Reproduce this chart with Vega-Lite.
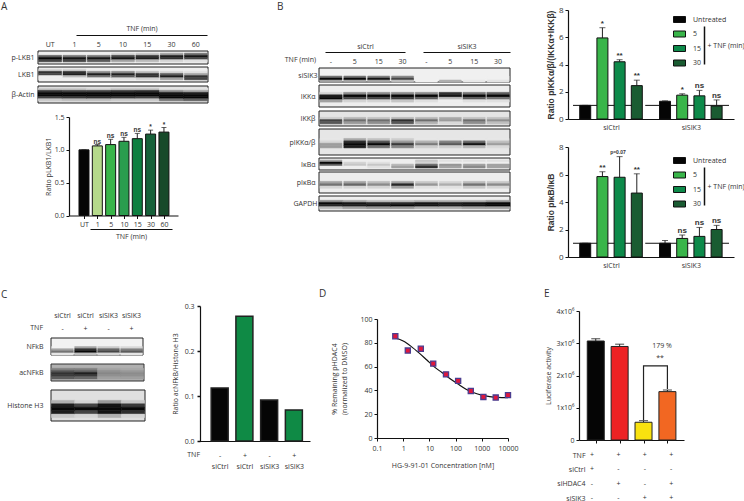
{
"$schema":"https://vega.github.io/schema/vega-lite/v6.json",
"width":744,"height":501,"padding":0,"autosize":{"type":"none"},"background":"white",
"datasets":{"unit":[{"a":0,"b":1}]},
"config":{"view":{"stroke":null},"text":{"font":"Open Sans","fontSize":7,"fill":"#333"},
"axis":{"labelFont":"Open Sans","labelFontSize":7,"labelColor":"#333","titleFont":"Open Sans","titleFontSize":7,"titleFontWeight":"normal","titleColor":"#333","domainColor":"#111","domainWidth":1.2,"tickColor":"#111","tickWidth":1,"tickSize":3,"grid":false,"labelPadding":2,"labelOverlap":false,"labelFlush":false},
"legend":{"labelFont":"Open Sans","labelFontSize":7,"labelColor":"#333"}},
"resolve":{"scale":{"x":"independent","y":"independent","color":"independent","stroke":"independent"},"axis":{"x":"independent","y":"independent"}},
"layer":[
{"data":{"values":[{"a":0,"t":"A"}]},"mark":{"type":"text","align":"left","fontSize":10},"encoding":{"x":{"field":"a","type":"quantitative","scale":{"domain":[0,1],"range":[1,2]},"axis":null},"y":{"field":"a","type":"quantitative","scale":{"domain":[0,1],"range":[7,8]},"axis":null},"text":{"field":"t"}}},
{"data":{"values":[{"a":0,"t":"B"}]},"mark":{"type":"text","align":"left","fontSize":10},"encoding":{"x":{"field":"a","type":"quantitative","scale":{"domain":[0,1],"range":[277,278]},"axis":null},"y":{"field":"a","type":"quantitative","scale":{"domain":[0,1],"range":[7,8]},"axis":null},"text":{"field":"t"}}},
{"data":{"values":[{"a":0,"t":"C"}]},"mark":{"type":"text","align":"left","fontSize":10},"encoding":{"x":{"field":"a","type":"quantitative","scale":{"domain":[0,1],"range":[1,2]},"axis":null},"y":{"field":"a","type":"quantitative","scale":{"domain":[0,1],"range":[295,296]},"axis":null},"text":{"field":"t"}}},
{"data":{"values":[{"a":0,"t":"D"}]},"mark":{"type":"text","align":"left","fontSize":10},"encoding":{"x":{"field":"a","type":"quantitative","scale":{"domain":[0,1],"range":[319,320]},"axis":null},"y":{"field":"a","type":"quantitative","scale":{"domain":[0,1],"range":[294,295]},"axis":null},"text":{"field":"t"}}},
{"data":{"values":[{"a":0,"t":"E"}]},"mark":{"type":"text","align":"left","fontSize":10},"encoding":{"x":{"field":"a","type":"quantitative","scale":{"domain":[0,1],"range":[544,545]},"axis":null},"y":{"field":"a","type":"quantitative","scale":{"domain":[0,1],"range":[294,295]},"axis":null},"text":{"field":"t"}}},

{"data":{"name":"unit"},"mark":{"type":"rect","opacity":0},"encoding":{"x":{"field":"a","type":"quantitative","scale":{"domain":[0,1],"range":[76,207]},"axis":{"orient":"top","offset":-35,"ticks":false,"labels":false,"title":"TNF (min)","titlePadding":4}}}},
{"data":{"name":"unit"},"mark":{"type":"rect","fill":"#eeeeee","stroke":"#222","strokeWidth":1},"encoding":{"x":{"field":"a","type":"quantitative","scale":{"domain":[0,1],"range":[38,208]},"axis":null},"x2":{"field":"b"},"y":{"field":"a","type":"quantitative","scale":{"domain":[0,1],"range":[51,64]},"axis":{"title":"p-LKB1","orient":"left","offset":-38,"domain":false,"ticks":false,"labels":false,"titleAngle":0,"titleAlign":"right","titleBaseline":"middle","titlePadding":4}},"y2":{"field":"b"}}},
{"data":{"values":[{"l":"UT","b":0,"c":0.6,"d":1,"e":0.7},{"l":"1","b":0,"c":0.5,"d":0.95,"e":0.7},{"l":"5","b":0,"c":0.5,"d":0.95,"e":0.6},{"l":"10","b":0.1,"c":0.7,"d":0.95,"e":0.3},{"l":"15","b":0.15,"c":0.8,"d":0.9,"e":0.2},{"l":"30","b":0.3,"c":0.9,"d":0.8,"e":0.1},{"l":"60","b":0.5,"c":0.95,"d":0.7,"e":0.05}]},"transform":[{"fold":["b","c","d","e"],"as":["strip","dark"]}],"mark":{"type":"rect","strokeWidth":0.5},"encoding":{"x":{"field":"l","type":"nominal","scale":{"domain":["UT","1","5","10","15","30","60"],"range":[38,208],"paddingInner":0.06,"paddingOuter":0.03},"axis":{"orient":"top","offset":-51,"domain":false,"ticks":false,"labelAngle":0,"labelPadding":4,"title":null}},"y":{"field":"strip","type":"nominal","scale":{"domain":["a","b","c","d","e","f"],"range":[51,64],"paddingInner":0,"paddingOuter":0},"axis":null},"color":{"field":"dark","type":"quantitative","scale":{"domain":[0,1],"range":["#eeeeee","#080808"]},"legend":null},"stroke":{"field":"dark","type":"quantitative","scale":{"domain":[0,1],"range":["#eeeeee","#080808"]},"legend":null}}},
{"data":{"name":"unit"},"mark":{"type":"rect","fill":"#eeeeee","stroke":"#222","strokeWidth":1},"encoding":{"x":{"field":"a","type":"quantitative","scale":{"domain":[0,1],"range":[38,208]},"axis":null},"x2":{"field":"b"},"y":{"field":"a","type":"quantitative","scale":{"domain":[0,1],"range":[67,82]},"axis":{"title":"LKB1","orient":"left","offset":-38,"domain":false,"ticks":false,"labels":false,"titleAngle":0,"titleAlign":"right","titleBaseline":"middle","titlePadding":4}},"y2":{"field":"b"}}},
{"data":{"values":[{"l":"UT","b":0.1,"c":0.8,"d":0.7,"e":0,"f":0},{"l":"1","b":0.1,"c":0.8,"d":0.9,"e":0.2,"f":0},{"l":"5","b":0,"c":0.4,"d":0.9,"e":0.5,"f":0},{"l":"10","b":0,"c":0.4,"d":0.9,"e":0.6,"f":0.05},{"l":"15","b":0,"c":0.2,"d":0.8,"e":0.8,"f":0.1},{"l":"30","b":0,"c":0.1,"d":0.6,"e":0.9,"f":0.3},{"l":"60","b":0,"c":0.05,"d":0.3,"e":0.8,"f":0.7}]},"transform":[{"fold":["b","c","d","e","f"],"as":["strip","dark"]}],"mark":{"type":"rect","strokeWidth":0.5},"encoding":{"x":{"field":"l","type":"nominal","scale":{"domain":["UT","1","5","10","15","30","60"],"range":[38,208],"paddingInner":0.06,"paddingOuter":0.03},"axis":null},"y":{"field":"strip","type":"nominal","scale":{"domain":["a","b","c","d","e","f","g"],"range":[67,82],"paddingInner":0,"paddingOuter":0},"axis":null},"color":{"field":"dark","type":"quantitative","scale":{"domain":[0,1],"range":["#eeeeee","#080808"]},"legend":null},"stroke":{"field":"dark","type":"quantitative","scale":{"domain":[0,1],"range":["#eeeeee","#080808"]},"legend":null}}},
{"data":{"name":"unit"},"mark":{"type":"rect","fill":"#e2e2e2","stroke":"#222","strokeWidth":1},"encoding":{"x":{"field":"a","type":"quantitative","scale":{"domain":[0,1],"range":[38,208]},"axis":null},"x2":{"field":"b"},"y":{"field":"a","type":"quantitative","scale":{"domain":[0,1],"range":[86,103]},"axis":{"title":"β-Actin","orient":"left","offset":-38,"domain":false,"ticks":false,"labels":false,"titleAngle":0,"titleAlign":"right","titleBaseline":"middle","titlePadding":4}},"y2":{"field":"b"}}},
{"data":{"values":[{"l":"UT","b":0.1,"c":0.75,"d":1,"e":1,"f":0.7,"g":0.1},{"l":"1","b":0.1,"c":0.7,"d":1,"e":1,"f":0.75,"g":0.15},{"l":"5","b":0.05,"c":0.7,"d":1,"e":1,"f":0.8,"g":0.15},{"l":"10","b":0.1,"c":0.75,"d":1,"e":1,"f":0.75,"g":0.1},{"l":"15","b":0.1,"c":0.8,"d":1,"e":1,"f":0.7,"g":0.1},{"l":"30","b":0,"c":0.35,"d":0.95,"e":1,"f":1,"g":0.45},{"l":"60","b":0,"c":0.25,"d":0.9,"e":1,"f":1,"g":0.55}]},"transform":[{"fold":["b","c","d","e","f","g"],"as":["strip","dark"]}],"mark":{"type":"rect","strokeWidth":0.5},"encoding":{"x":{"field":"l","type":"nominal","scale":{"domain":["UT","1","5","10","15","30","60"],"range":[38,208],"paddingInner":0,"paddingOuter":0},"axis":null},"y":{"field":"strip","type":"nominal","scale":{"domain":["a","b","c","d","e","f","g","h"],"range":[86,103],"paddingInner":0,"paddingOuter":0},"axis":null},"color":{"field":"dark","type":"quantitative","scale":{"domain":[0,1],"range":["#e2e2e2","#080808"]},"legend":null},"stroke":{"field":"dark","type":"quantitative","scale":{"domain":[0,1],"range":["#e2e2e2","#080808"]},"legend":null}}},

{"data":{"values":[{"pos":1,"g":"UT","v":1,"hi":1,"sig":""},{"pos":2,"g":"1","v":1.06,"hi":1.08,"sig":"ns"},{"pos":3,"g":"5","v":1.08,"hi":1.16,"sig":"ns"},{"pos":4,"g":"10","v":1.13,"hi":1.19,"sig":"ns"},{"pos":5,"g":"15","v":1.17,"hi":1.25,"sig":"ns"},{"pos":6,"g":"30","v":1.24,"hi":1.3,"sig":"*"},{"pos":7,"g":"60","v":1.27,"hi":1.34,"sig":"*"}]},
"encoding":{"x":{"field":"pos","type":"quantitative","scale":{"domain":[0.25,7.68],"range":[69,178]},"axis":{"orient":"bottom","values":[1,2,3,4,5,6,7],"labelExpr":"['UT','1','5','10','15','30','60'][datum.value-1]","offset":-285.5,"title":null}},"y":{"field":"v","type":"quantitative","stack":null,"scale":{"domain":[0,1.5],"range":[215.5,117]},"axis":{"orient":"left","values":[0,0.5,1,1.5],"format":".1f","offset":-69,"title":"Ratio pLKB1/LKB1","titlePadding":3}}},
"layer":[
{"mark":{"type":"rule","color":"#222","strokeWidth":1},"encoding":{"y2":{"field":"hi"}}},
{"mark":{"type":"tick","orient":"horizontal","size":5,"thickness":1,"color":"#222"},"encoding":{"y":{"field":"hi","type":"quantitative","stack":null,"scale":{"domain":[0,1.5],"range":[215.5,117]}}}},
{"mark":{"type":"bar","orient":"vertical","size":10,"stroke":"#111","strokeWidth":1},"encoding":{"color":{"field":"g","type":"nominal","scale":{"domain":["UT","1","5","10","15","30","60"],"range":["#050505","#b5d98b","#39b54a","#2a9d4e","#0d7f40","#17613a","#174a2a"]},"legend":null}}},
{"mark":{"type":"text","baseline":"bottom","fontSize":6.5,"fontWeight":"bold","font":"Liberation Sans","dy":0},"encoding":{"y":{"field":"hi","type":"quantitative","stack":null,"scale":{"domain":[0,1.5],"range":[215.5,117]}},"text":{"field":"sig"}}}
]},
{"data":{"name":"unit"},"mark":{"type":"rect","opacity":0},"encoding":{"x":{"field":"a","type":"quantitative","scale":{"domain":[0,1],"range":[90,172]},"axis":{"orient":"bottom","offset":-272,"ticks":false,"labels":false,"title":"TNF (min)","titlePadding":3}}}},

{"data":{"name":"unit"},"mark":{"type":"rect","opacity":0},"encoding":{"x":{"field":"a","type":"quantitative","scale":{"domain":[0,1],"range":[325,405]},"axis":{"orient":"top","offset":-52,"ticks":false,"labels":false,"title":"siCtrl","titlePadding":3}}}},
{"data":{"name":"unit"},"mark":{"type":"rect","opacity":0},"encoding":{"x":{"field":"a","type":"quantitative","scale":{"domain":[0,1],"range":[423,510]},"axis":{"orient":"top","offset":-52,"ticks":false,"labels":false,"title":"siSIK3","titlePadding":3}}}},
{"data":{"values":[{"a":0,"t":"TNF (min)"}]},"mark":{"type":"text","align":"right"},"encoding":{"x":{"field":"a","type":"quantitative","scale":{"domain":[0,1],"range":[316,317]},"axis":null},"y":{"field":"a","type":"quantitative","scale":{"domain":[0,1],"range":[60,61]},"axis":null},"text":{"field":"t"}}},

{"data":{"name":"unit"},"mark":{"type":"rect","fill":"#f0f0f0","stroke":"#222","strokeWidth":1},"encoding":{"x":{"field":"a","type":"quantitative","scale":{"domain":[0,1],"range":[319,510]},"axis":null},"x2":{"field":"b"},"y":{"field":"a","type":"quantitative","scale":{"domain":[0,1],"range":[68,82]},"axis":{"title":"siSIK3","orient":"left","offset":-319,"domain":false,"ticks":false,"labels":false,"titleAngle":0,"titleAlign":"right","titleBaseline":"middle","titlePadding":2}},"y2":{"field":"b"}}},
{"data":{"values":[{"l":"c-","e":0.5,"f":1,"g":0.3},{"l":"c5","e":0.5,"f":1,"g":0.3},{"l":"c15","e":0.45,"f":0.95,"g":0.3},{"l":"c30","e":0.4,"f":0.7,"g":0.2},{"l":"s-","e":0,"f":0,"g":0},{"l":"s5","e":0,"f":0,"g":0.25},{"l":"s15","e":0,"f":0,"g":0.03},{"l":"s30","e":0,"f":0,"g":0.05}]},"transform":[{"fold":["e","f","g"],"as":["strip","dark"]}],"mark":{"type":"rect","strokeWidth":0.5},"encoding":{"x":{"field":"l","type":"nominal","scale":{"domain":["c-","c5","c15","c30","s-","s5","s15","s30"],"range":[319,510],"paddingInner":0.08,"paddingOuter":0.04},"axis":{"orient":"top","offset":-68,"domain":false,"ticks":false,"labelAngle":0,"labelPadding":4,"title":null,"labelExpr":"slice(datum.value,1)"}},"y":{"field":"strip","type":"nominal","scale":{"domain":["a","b","c","d","e","f","g"],"range":[68,82],"paddingInner":0,"paddingOuter":0},"axis":null},"color":{"field":"dark","type":"quantitative","scale":{"domain":[0,1],"range":["#f0f0f0","#080808"]},"legend":null},"stroke":{"field":"dark","type":"quantitative","scale":{"domain":[0,1],"range":["#f0f0f0","#080808"]},"legend":null}}},

{"data":{"name":"unit"},"mark":{"type":"rect","fill":"#eeeeee","stroke":"#222","strokeWidth":1},"encoding":{"x":{"field":"a","type":"quantitative","scale":{"domain":[0,1],"range":[319,510]},"axis":null},"x2":{"field":"b"},"y":{"field":"a","type":"quantitative","scale":{"domain":[0,1],"range":[85,107]},"axis":{"title":"IKKα","orient":"left","offset":-319,"domain":false,"ticks":false,"labels":false,"titleAngle":0,"titleAlign":"right","titleBaseline":"middle","titlePadding":4}},"y2":{"field":"b"}}},
{"data":{"values":[{"l":"c-","d":0.1,"e":0.9,"f":1,"g":0.3},{"l":"c5","d":0.4,"e":1,"f":0.7,"g":0.1},{"l":"c15","d":0.4,"e":1,"f":0.7,"g":0.1},{"l":"c30","d":0.4,"e":1,"f":0.75,"g":0.15},{"l":"s-","d":0.4,"e":1,"f":0.6,"g":0.05},{"l":"s5","d":0.8,"e":0.95,"f":0.2,"g":0},{"l":"s15","d":0.5,"e":1,"f":0.6,"g":0.05},{"l":"s30","d":0.6,"e":1,"f":0.5,"g":0.05}]},"transform":[{"fold":["d","e","f","g"],"as":["strip","dark"]}],"mark":{"type":"rect","strokeWidth":0.5},"encoding":{"x":{"field":"l","type":"nominal","scale":{"domain":["c-","c5","c15","c30","s-","s5","s15","s30"],"range":[319,510],"paddingInner":0.06,"paddingOuter":0.03},"axis":null},"y":{"field":"strip","type":"nominal","scale":{"domain":["a","b","c","d","e","f","g","h","i"],"range":[85,107],"paddingInner":0,"paddingOuter":0},"axis":null},"color":{"field":"dark","type":"quantitative","scale":{"domain":[0,1],"range":["#eeeeee","#080808"]},"legend":null},"stroke":{"field":"dark","type":"quantitative","scale":{"domain":[0,1],"range":["#eeeeee","#080808"]},"legend":null}}},

{"data":{"name":"unit"},"mark":{"type":"rect","fill":"#e4e4e4","stroke":"#222","strokeWidth":1},"encoding":{"x":{"field":"a","type":"quantitative","scale":{"domain":[0,1],"range":[319,510]},"axis":null},"x2":{"field":"b"},"y":{"field":"a","type":"quantitative","scale":{"domain":[0,1],"range":[111,126]},"axis":{"title":"IKKβ","orient":"left","offset":-319,"domain":false,"ticks":false,"labels":false,"titleAngle":0,"titleAlign":"right","titleBaseline":"middle","titlePadding":4}},"y2":{"field":"b"}}},
{"data":{"values":[{"l":"c-","d":0.1,"e":0.7,"f":0.6},{"l":"c5","d":0.2,"e":0.5,"f":0.3},{"l":"c15","d":0.15,"e":0.5,"f":0.35},{"l":"c30","d":0.2,"e":0.8,"f":0.6},{"l":"s-","d":0.2,"e":0.5,"f":0.2},{"l":"s5","d":0.25,"e":0.3,"f":0.05},{"l":"s15","d":0.15,"e":0.5,"f":0.35},{"l":"s30","d":0.15,"e":0.35,"f":0.15}]},"transform":[{"fold":["d","e","f"],"as":["strip","dark"]}],"mark":{"type":"rect","strokeWidth":0.5},"encoding":{"x":{"field":"l","type":"nominal","scale":{"domain":["c-","c5","c15","c30","s-","s5","s15","s30"],"range":[319,510],"paddingInner":0.08,"paddingOuter":0.04},"axis":null},"y":{"field":"strip","type":"nominal","scale":{"domain":["a","b","c","d","e","f","g"],"range":[111,126],"paddingInner":0,"paddingOuter":0},"axis":null},"color":{"field":"dark","type":"quantitative","scale":{"domain":[0,1],"range":["#e4e4e4","#080808"]},"legend":null},"stroke":{"field":"dark","type":"quantitative","scale":{"domain":[0,1],"range":["#e4e4e4","#080808"]},"legend":null}}},

{"data":{"name":"unit"},"mark":{"type":"rect","fill":"#e6e6e6","stroke":"#222","strokeWidth":1},"encoding":{"x":{"field":"a","type":"quantitative","scale":{"domain":[0,1],"range":[319,510]},"axis":null},"x2":{"field":"b"},"y":{"field":"a","type":"quantitative","scale":{"domain":[0,1],"range":[129,155]},"axis":{"title":"pIKKα/β","orient":"left","offset":-319,"domain":false,"ticks":false,"labels":false,"titleAngle":0,"titleAlign":"right","titleBaseline":"middle","titlePadding":4}},"y2":{"field":"b"}}},
{"data":{"values":[{"l":"c-","e":0,"f":0.05,"g":0.3,"h":0.3},{"l":"c5","e":0.25,"f":0.8,"g":1,"h":0.9},{"l":"c15","e":0.15,"f":0.6,"g":1,"h":0.5},{"l":"c30","e":0.1,"f":0.3,"g":0.75,"h":0.4},{"l":"s-","e":0,"f":0.2,"g":0.45,"h":0.1},{"l":"s5","e":0,"f":0.4,"g":0.6,"h":0.1},{"l":"s15","e":0,"f":0.5,"g":0.95,"h":0.2},{"l":"s30","e":0,"f":0.15,"g":0.3,"h":0.05}]},"transform":[{"fold":["e","f","g","h"],"as":["strip","dark"]}],"mark":{"type":"rect","strokeWidth":0.5},"encoding":{"x":{"field":"l","type":"nominal","scale":{"domain":["c-","c5","c15","c30","s-","s5","s15","s30"],"range":[319,510],"paddingInner":0.08,"paddingOuter":0.04},"axis":null},"y":{"field":"strip","type":"nominal","scale":{"domain":["a","b","c","d","e","f","g","h","i","j","k"],"range":[129,155],"paddingInner":0,"paddingOuter":0},"axis":null},"color":{"field":"dark","type":"quantitative","scale":{"domain":[0,1],"range":["#e6e6e6","#080808"]},"legend":null},"stroke":{"field":"dark","type":"quantitative","scale":{"domain":[0,1],"range":["#e6e6e6","#080808"]},"legend":null}}},

{"data":{"name":"unit"},"mark":{"type":"rect","fill":"#eeeeee","stroke":"#222","strokeWidth":1},"encoding":{"x":{"field":"a","type":"quantitative","scale":{"domain":[0,1],"range":[319,510]},"axis":null},"x2":{"field":"b"},"y":{"field":"a","type":"quantitative","scale":{"domain":[0,1],"range":[158,170]},"axis":{"title":"IκBα","orient":"left","offset":-319,"domain":false,"ticks":false,"labels":false,"titleAngle":0,"titleAlign":"right","titleBaseline":"middle","titlePadding":4}},"y2":{"field":"b"}}},
{"data":{"values":[{"l":"c-","b":0.3,"c":1,"d":0.6,"e":0},{"l":"c5","b":0,"c":0.1,"d":0.15,"e":0},{"l":"c15","b":0,"c":0.05,"d":0.15,"e":0.05},{"l":"c30","b":0,"c":0,"d":0.2,"e":0.3},{"l":"s-","b":0.15,"c":0.1,"d":0.5,"e":0.8},{"l":"s5","b":0.05,"c":0,"d":0.35,"e":0.3},{"l":"s15","b":0.05,"c":0,"d":0.3,"e":0.4},{"l":"s30","b":0.05,"c":0,"d":0.3,"e":0.3}]},"transform":[{"fold":["b","c","d","e"],"as":["strip","dark"]}],"mark":{"type":"rect","strokeWidth":0.5},"encoding":{"x":{"field":"l","type":"nominal","scale":{"domain":["c-","c5","c15","c30","s-","s5","s15","s30"],"range":[319,510],"paddingInner":0.08,"paddingOuter":0.04},"axis":null},"y":{"field":"strip","type":"nominal","scale":{"domain":["a","b","c","d","e","f"],"range":[158,170],"paddingInner":0,"paddingOuter":0},"axis":null},"color":{"field":"dark","type":"quantitative","scale":{"domain":[0,1],"range":["#eeeeee","#080808"]},"legend":null},"stroke":{"field":"dark","type":"quantitative","scale":{"domain":[0,1],"range":["#eeeeee","#080808"]},"legend":null}}},

{"data":{"name":"unit"},"mark":{"type":"rect","fill":"#eeeeee","stroke":"#222","strokeWidth":1},"encoding":{"x":{"field":"a","type":"quantitative","scale":{"domain":[0,1],"range":[319,510]},"axis":null},"x2":{"field":"b"},"y":{"field":"a","type":"quantitative","scale":{"domain":[0,1],"range":[172,193]},"axis":{"title":"pIκBα","orient":"left","offset":-319,"domain":false,"ticks":false,"labels":false,"titleAngle":0,"titleAlign":"right","titleBaseline":"middle","titlePadding":4}},"y2":{"field":"b"}}},
{"data":{"values":[{"l":"c-","e":0.3,"f":0.5,"g":0.1},{"l":"c5","e":0.3,"f":0.55,"g":0.1},{"l":"c15","e":0.2,"f":0.4,"g":0.1},{"l":"c30","e":0.3,"f":0.85,"g":0.3},{"l":"s-","e":0.15,"f":0.35,"g":0.05},{"l":"s5","e":0.1,"f":0.25,"g":0.05},{"l":"s15","e":0.2,"f":0.5,"g":0.15},{"l":"s30","e":0.15,"f":0.4,"g":0.1}]},"transform":[{"fold":["e","f","g"],"as":["strip","dark"]}],"mark":{"type":"rect","strokeWidth":0.5},"encoding":{"x":{"field":"l","type":"nominal","scale":{"domain":["c-","c5","c15","c30","s-","s5","s15","s30"],"range":[319,510],"paddingInner":0.08,"paddingOuter":0.04},"axis":null},"y":{"field":"strip","type":"nominal","scale":{"domain":["a","b","c","d","e","f","g","h","i"],"range":[172,193],"paddingInner":0,"paddingOuter":0},"axis":null},"color":{"field":"dark","type":"quantitative","scale":{"domain":[0,1],"range":["#eeeeee","#080808"]},"legend":null},"stroke":{"field":"dark","type":"quantitative","scale":{"domain":[0,1],"range":["#eeeeee","#080808"]},"legend":null}}},

{"data":{"name":"unit"},"mark":{"type":"rect","fill":"#eeeeee","stroke":"#222","strokeWidth":1},"encoding":{"x":{"field":"a","type":"quantitative","scale":{"domain":[0,1],"range":[319,510]},"axis":null},"x2":{"field":"b"},"y":{"field":"a","type":"quantitative","scale":{"domain":[0,1],"range":[196,211]},"axis":{"title":"GAPDH","orient":"left","offset":-319,"domain":false,"ticks":false,"labels":false,"titleAngle":0,"titleAlign":"right","titleBaseline":"middle","titlePadding":2}},"y2":{"field":"b"}}},
{"data":{"values":[{"l":"c-","c":0.4,"d":1,"e":0.85,"f":0.2},{"l":"c5","c":0.3,"d":0.95,"e":0.9,"f":0.3},{"l":"c15","c":0.2,"d":0.85,"e":0.95,"f":0.35},{"l":"c30","c":0.2,"d":0.85,"e":1,"f":0.35},{"l":"s-","c":0.25,"d":0.95,"e":0.95,"f":0.25},{"l":"s5","c":0.25,"d":0.9,"e":0.9,"f":0.25},{"l":"s15","c":0.25,"d":0.95,"e":0.95,"f":0.3},{"l":"s30","c":0.35,"d":1,"e":1,"f":0.3}]},"transform":[{"fold":["c","d","e","f"],"as":["strip","dark"]}],"mark":{"type":"rect","strokeWidth":0.5},"encoding":{"x":{"field":"l","type":"nominal","scale":{"domain":["c-","c5","c15","c30","s-","s5","s15","s30"],"range":[319,510],"paddingInner":0,"paddingOuter":0},"axis":null},"y":{"field":"strip","type":"nominal","scale":{"domain":["a","b","c","d","e","f","g"],"range":[196,211],"paddingInner":0,"paddingOuter":0},"axis":null},"color":{"field":"dark","type":"quantitative","scale":{"domain":[0,1],"range":["#eeeeee","#080808"]},"legend":null},"stroke":{"field":"dark","type":"quantitative","scale":{"domain":[0,1],"range":["#eeeeee","#080808"]},"legend":null}}},

{"data":{"values":[{"pos":1,"g":"Untreated","v":1,"hi":1,"sig":""},{"pos":2,"g":"5","v":5.95,"hi":6.7,"sig":"*"},{"pos":3,"g":"15","v":4.2,"hi":4.35,"sig":"**"},{"pos":4,"g":"30","v":2.45,"hi":2.85,"sig":"**"},{"pos":5.64,"g":"Untreated","v":1.3,"hi":1.33,"sig":""},{"pos":6.64,"g":"5","v":1.75,"hi":1.85,"sig":"*"},{"pos":7.64,"g":"15","v":1.7,"hi":2.1,"sig":"ns"},{"pos":8.64,"g":"30","v":0.95,"hi":1.4,"sig":"ns"}]},
"encoding":{"x":{"field":"pos","type":"quantitative","scale":{"domain":[0.29,9.36],"range":[568,734]},"axis":{"orient":"bottom","values":[2.5,7.14],"labelExpr":"datum.value<5?'siCtrl':'siSIK3'","offset":-382,"ticks":false,"labelPadding":4,"title":null}},"y":{"field":"v","type":"quantitative","stack":null,"scale":{"domain":[0,8],"range":[119,10]},"axis":{"orient":"left","values":[0,2,4,6,8],"offset":-568,"labelFontSize":8,"title":"Ratio pIKKα/β/(IKKα+IKKβ)","titleFont":"Liberation Sans","titleFontSize":8.5,"titleFontWeight":"bold","titlePadding":3}}},
"layer":[
{"data":{"values":[{"from":0.29,"to":4.22,"ref":1},{"from":4.49,"to":9.36,"ref":1}]},"mark":{"type":"rule","color":"#111","strokeWidth":1},"encoding":{"x":{"field":"from","type":"quantitative","scale":{"domain":[0.29,9.36],"range":[568,734]}},"x2":{"field":"to"},"y":{"field":"ref","type":"quantitative","scale":{"domain":[0,8],"range":[119,10]}}}},
{"mark":{"type":"rule","color":"#222","strokeWidth":1},"encoding":{"y2":{"field":"hi"}}},
{"mark":{"type":"tick","orient":"horizontal","size":6,"thickness":1,"color":"#222"},"encoding":{"y":{"field":"hi","type":"quantitative","stack":null,"scale":{"domain":[0,8],"range":[119,10]}}}},
{"mark":{"type":"bar","orient":"vertical","size":11,"stroke":"#111","strokeWidth":1},"encoding":{"color":{"field":"g","type":"nominal","scale":{"domain":["Untreated","5","15","30"],"range":["#050505","#39b54a","#0d8a4a","#1a5c32"]},"legend":{"orient":"none","legendX":673,"legendY":13,"title":null,"symbolType":"M-1,-0.5H1V0.5H-1Z","symbolSize":144,"symbolStrokeColor":"#111","symbolStrokeWidth":1,"rowPadding":2.5,"labelOffset":7,"padding":0}}}},
{"mark":{"type":"text","baseline":"bottom","fontSize":8,"fontWeight":"bold","font":"Liberation Sans"},"encoding":{"y":{"field":"hi","type":"quantitative","stack":null,"scale":{"domain":[0,8],"range":[119,10]}},"text":{"field":"sig"}}}
]},
{"data":{"name":"unit"},"mark":{"type":"rect","opacity":0},"encoding":{"y":{"field":"a","type":"quantitative","scale":{"domain":[0,1],"range":[64,26]},"axis":{"orient":"right","offset":-40,"domainWidth":1.5,"ticks":false,"labels":false,"title":"+ TNF (min)","titleAngle":0,"titleAlign":"left","titleBaseline":"middle","titlePadding":3}}}},

{"data":{"values":[{"pos":1,"g":"Untreated","v":1,"hi":1,"sig":""},{"pos":2,"g":"5","v":5.85,"hi":6.2,"sig":"**"},{"pos":3,"g":"15","v":5.8,"hi":7.3,"sig":""},{"pos":4,"g":"30","v":4.65,"hi":6.05,"sig":"**"},{"pos":5.64,"g":"Untreated","v":1,"hi":1.2,"sig":""},{"pos":6.64,"g":"5","v":1.35,"hi":1.6,"sig":"ns"},{"pos":7.64,"g":"15","v":1.5,"hi":2.15,"sig":"ns"},{"pos":8.64,"g":"30","v":2,"hi":2.3,"sig":"ns"}]},
"encoding":{"x":{"field":"pos","type":"quantitative","scale":{"domain":[0.29,9.36],"range":[568,734]},"axis":{"orient":"bottom","values":[2.5,7.14],"labelExpr":"datum.value<5?'siCtrl':'siSIK3'","offset":-244,"ticks":false,"labelPadding":4,"title":null}},"y":{"field":"v","type":"quantitative","stack":null,"scale":{"domain":[0,8],"range":[257,147]},"axis":{"orient":"left","values":[0,2,4,6,8],"offset":-568,"labelFontSize":8,"title":"Ratio pIκB/IκB","titleFont":"Liberation Sans","titleFontSize":8.5,"titleFontWeight":"bold","titlePadding":3}}},
"layer":[
{"data":{"values":[{"from":0.29,"to":4.22,"ref":1},{"from":4.49,"to":9.36,"ref":1}]},"mark":{"type":"rule","color":"#111","strokeWidth":1},"encoding":{"x":{"field":"from","type":"quantitative","scale":{"domain":[0.29,9.36],"range":[568,734]}},"x2":{"field":"to"},"y":{"field":"ref","type":"quantitative","scale":{"domain":[0,8],"range":[257,147]}}}},
{"mark":{"type":"rule","color":"#222","strokeWidth":1},"encoding":{"y2":{"field":"hi"}}},
{"mark":{"type":"tick","orient":"horizontal","size":6,"thickness":1,"color":"#222"},"encoding":{"y":{"field":"hi","type":"quantitative","stack":null,"scale":{"domain":[0,8],"range":[257,147]}}}},
{"mark":{"type":"bar","orient":"vertical","size":11,"stroke":"#111","strokeWidth":1},"encoding":{"color":{"field":"g","type":"nominal","scale":{"domain":["Untreated","5","15","30"],"range":["#050505","#39b54a","#0d8a4a","#1a5c32"]},"legend":{"orient":"none","legendX":673,"legendY":154,"title":null,"symbolType":"M-1,-0.5H1V0.5H-1Z","symbolSize":144,"symbolStrokeColor":"#111","symbolStrokeWidth":1,"rowPadding":2.5,"labelOffset":7,"padding":0}}}},
{"mark":{"type":"text","baseline":"bottom","fontSize":8,"fontWeight":"bold","font":"Liberation Sans"},"encoding":{"y":{"field":"hi","type":"quantitative","stack":null,"scale":{"domain":[0,8],"range":[257,147]}},"text":{"field":"sig"}}}
]},
{"data":{"name":"unit"},"mark":{"type":"rect","opacity":0},"encoding":{"y":{"field":"a","type":"quantitative","scale":{"domain":[0,1],"range":[205,167]},"axis":{"orient":"right","offset":-40,"domainWidth":1.5,"ticks":false,"labels":false,"title":"+ TNF (min)","titleAngle":0,"titleAlign":"left","titleBaseline":"middle","titlePadding":3}}}},
{"data":{"values":[{"a":0,"t":"p=0.07"}]},"mark":{"type":"text","fontSize":5,"fontWeight":"bold","font":"Liberation Sans"},"encoding":{"x":{"field":"a","type":"quantitative","scale":{"domain":[0,1],"range":[618,619]},"axis":null},"y":{"field":"a","type":"quantitative","scale":{"domain":[0,1],"range":[152,153]},"axis":null},"text":{"field":"t"}}},

{"data":{"name":"unit"},"mark":{"type":"rect","fill":"#f2f2f2","stroke":"#222","strokeWidth":1},"encoding":{"x":{"field":"a","type":"quantitative","scale":{"domain":[0,1],"range":[51,143]},"axis":null},"x2":{"field":"b"},"y":{"field":"a","type":"quantitative","scale":{"domain":[0,1],"range":[338,355]},"axis":{"title":"NFkB","orient":"left","offset":-51,"domain":false,"ticks":false,"labels":false,"titleAngle":0,"titleAlign":"right","titleBaseline":"middle","titlePadding":8}},"y2":{"field":"b"}}},
{"data":{"values":[{"l":"p","e":0,"f":0.3,"g":0.5,"h":0.05},{"l":"q","e":0.3,"f":0.8,"g":1,"h":0.2},{"l":"r","e":0.15,"f":0.55,"g":0.7,"h":0.1},{"l":"s","e":0.1,"f":0.45,"g":0.6,"h":0.05}]},"transform":[{"fold":["e","f","g","h"],"as":["strip","dark"]}],"mark":{"type":"rect","strokeWidth":0.5},"encoding":{"x":{"field":"l","type":"nominal","scale":{"domain":["p","q","r","s"],"range":[51,143],"paddingInner":0.06,"paddingOuter":0.03},"axis":{"orient":"top","offset":-338,"domain":false,"ticks":false,"labelAngle":0,"labelPadding":20,"labelLineHeight":13,"title":null,"labelExpr":"{'p':['siCtrl','-'],'q':['siCtrl','+'],'r':['siSIK3','-'],'s':['siSIK3','+']}[datum.value]"}},"y":{"field":"strip","type":"nominal","scale":{"domain":["a","b","c","d","e","f","g","h"],"range":[338,355],"paddingInner":0,"paddingOuter":0},"axis":null},"color":{"field":"dark","type":"quantitative","scale":{"domain":[0,1],"range":["#f2f2f2","#080808"]},"legend":null},"stroke":{"field":"dark","type":"quantitative","scale":{"domain":[0,1],"range":["#f2f2f2","#080808"]},"legend":null}}},
{"data":{"values":[{"a":0,"t":"TNF"}]},"mark":{"type":"text","align":"right"},"encoding":{"x":{"field":"a","type":"quantitative","scale":{"domain":[0,1],"range":[43,44]},"axis":null},"y":{"field":"a","type":"quantitative","scale":{"domain":[0,1],"range":[328,329]},"axis":null},"text":{"field":"t"}}},

{"data":{"name":"unit"},"mark":{"type":"rect","fill":"#b0b0b0","stroke":"#333","strokeWidth":1},"encoding":{"x":{"field":"a","type":"quantitative","scale":{"domain":[0,1],"range":[51,144]},"axis":null},"x2":{"field":"b"},"y":{"field":"a","type":"quantitative","scale":{"domain":[0,1],"range":[364,381]},"axis":{"title":"acNFkB","orient":"left","offset":-51,"domain":false,"ticks":false,"labels":false,"titleAngle":0,"titleAlign":"right","titleBaseline":"middle","titlePadding":8}},"y2":{"field":"b"}}},
{"data":{"values":[{"l":"p","c":0.45,"d":0.65,"e":0.8,"f":0.75,"g":0.6},{"l":"q","c":0.45,"d":0.6,"e":0.9,"f":0.75,"g":0.55},{"l":"r","c":0.3,"d":0.38,"e":0.42,"f":0.38,"g":0.32},{"l":"s","c":0.28,"d":0.35,"e":0.4,"f":0.38,"g":0.32}]},"transform":[{"fold":["c","d","e","f","g"],"as":["strip","dark"]}],"mark":{"type":"rect","strokeWidth":0.5},"encoding":{"x":{"field":"l","type":"nominal","scale":{"domain":["p","q","r","s"],"range":[51,144],"paddingInner":0,"paddingOuter":0.02},"axis":null},"y":{"field":"strip","type":"nominal","scale":{"domain":["a","b","c","d","e","f","g","h"],"range":[364,381],"paddingInner":0,"paddingOuter":0},"axis":null},"color":{"field":"dark","type":"quantitative","scale":{"domain":[0,1],"range":["#f2f2f2","#080808"]},"legend":null},"stroke":{"field":"dark","type":"quantitative","scale":{"domain":[0,1],"range":["#f2f2f2","#080808"]},"legend":null}}},

{"data":{"name":"unit"},"mark":{"type":"rect","fill":"#e0e0e0","stroke":"#222","strokeWidth":1},"encoding":{"x":{"field":"a","type":"quantitative","scale":{"domain":[0,1],"range":[51,145]},"axis":null},"x2":{"field":"b"},"y":{"field":"a","type":"quantitative","scale":{"domain":[0,1],"range":[390,421]},"axis":{"title":"Histone H3","orient":"left","offset":-51,"domain":false,"ticks":false,"labels":false,"titleAngle":0,"titleAlign":"right","titleBaseline":"middle","titlePadding":8}},"y2":{"field":"b"}}},
{"data":{"values":[{"l":"p","d":0.2,"e":0.9,"f":1,"g":0.9,"h":0.1},{"l":"q","d":0.05,"e":0.7,"f":1,"g":0.7,"h":0.05},{"l":"r","d":0.3,"e":0.95,"f":1,"g":0.95,"h":0.2},{"l":"s","d":0.1,"e":0.75,"f":1,"g":0.8,"h":0.05}]},"transform":[{"fold":["d","e","f","g","h"],"as":["strip","dark"]}],"mark":{"type":"rect","strokeWidth":0.5},"encoding":{"x":{"field":"l","type":"nominal","scale":{"domain":["p","q","r","s"],"range":[51,145],"paddingInner":0,"paddingOuter":0.02},"axis":null},"y":{"field":"strip","type":"nominal","scale":{"domain":["a","b","c","d","e","f","g","h","i"],"range":[390,421],"paddingInner":0,"paddingOuter":0},"axis":null},"color":{"field":"dark","type":"quantitative","scale":{"domain":[0,1],"range":["#e0e0e0","#080808"]},"legend":null},"stroke":{"field":"dark","type":"quantitative","scale":{"domain":[0,1],"range":["#e0e0e0","#080808"]},"legend":null}}},

{"data":{"values":[{"pos":1,"g":"ctrl","v":0.118},{"pos":2,"g":"tnf","v":0.277},{"pos":3,"g":"ctrl","v":0.091},{"pos":4,"g":"tnf","v":0.069}]},"mark":{"type":"bar","orient":"vertical","size":17,"stroke":"#222","strokeWidth":1.5},"encoding":{"x":{"field":"pos","type":"quantitative","scale":{"domain":[0.326,4.45],"range":[198,310]},"axis":{"orient":"bottom","values":[1,2,3,4],"labelExpr":"[['-','siCtrl'],['+','siCtrl'],['-','siSIK3'],['+','siSIK3']][datum.value-1]","offset":-60,"ticks":false,"labelPadding":10,"labelLineHeight":11,"title":null}},"y":{"field":"v","type":"quantitative","stack":null,"scale":{"domain":[0,0.3],"range":[441,306]},"axis":{"orient":"left","values":[0,0.1,0.2,0.3],"format":".1f","offset":-200,"tickWidth":1.5,"title":"Ratio acNFkB/Histone H3","titlePadding":6,"labelPadding":3}},"color":{"field":"g","type":"nominal","scale":{"domain":["ctrl","tnf"],"range":["#050505","#0f8a45"]},"legend":null}}},
{"data":{"values":[{"a":0,"t":"TNF"}]},"mark":{"type":"text","align":"right"},"encoding":{"x":{"field":"a","type":"quantitative","scale":{"domain":[0,1],"range":[200,201]},"axis":null},"y":{"field":"a","type":"quantitative","scale":{"domain":[0,1],"range":[455,456]},"axis":null},"text":{"field":"t"}}},

{"layer":[
{"data":{"values":[{"c":0.5,"p":84},{"c":1,"p":81.5},{"c":2,"p":77},{"c":4,"p":71.5},{"c":8,"p":65.5},{"c":15,"p":60},{"c":30,"p":55},{"c":60,"p":50},{"c":120,"p":45.5},{"c":250,"p":41},{"c":500,"p":38},{"c":1000,"p":36},{"c":2000,"p":34.8},{"c":4000,"p":34.2},{"c":10000,"p":34}]},"mark":{"type":"line","color":"#111","strokeWidth":1.2,"interpolate":"monotone"},"encoding":{"x":{"field":"c","type":"quantitative","scale":{"type":"log","domain":[0.1,10000],"range":[377,508]},"axis":{"orient":"bottom","values":[0.1,1,10,100,1000,10000],"labelExpr":"''+datum.value","offset":-63,"labelPadding":3,"title":"HG-9-91-01 Concentration [nM]","titlePadding":10}},"y":{"field":"p","type":"quantitative","scale":{"domain":[0,100],"range":[438,319]},"axis":{"orient":"left","values":[0,20,40,60,80,100],"offset":-377,"title":["% Remaining pHDAC4","(normalized to DMSO)"],"titleLineHeight":10,"titlePadding":12}}}},
{"data":{"values":[{"c":0.5,"p":85.5},{"c":1.5,"p":73.5},{"c":4.7,"p":75},{"c":14,"p":62.5},{"c":43,"p":53.5},{"c":125,"p":48},{"c":380,"p":39.5},{"c":1150,"p":34.5},{"c":3400,"p":34},{"c":10000,"p":36}]},"mark":{"type":"square","size":26,"fill":"#e0173c","stroke":"#4b3d8f","strokeWidth":1.3,"opacity":1},"encoding":{"x":{"field":"c","type":"quantitative","scale":{"type":"log","domain":[0.1,10000],"range":[377,508]}},"y":{"field":"p","type":"quantitative","scale":{"domain":[0,100],"range":[438,319]}}}}
]},

{"data":{"values":[{"pos":1,"g":"a","v":3.07,"hi":3.14},{"pos":2,"g":"b","v":2.9,"hi":2.97},{"pos":3,"g":"c","v":0.55,"hi":0.6},{"pos":4,"g":"d","v":1.5,"hi":1.55}]},
"encoding":{"x":{"field":"pos","type":"quantitative","scale":{"domain":[0.508,4.485],"range":[579,684]},"axis":{"orient":"bottom","values":[1,2,3,4],"labels":false,"offset":-61,"title":null}},"y":{"field":"v","type":"quantitative","stack":null,"scale":{"domain":[0,4],"range":[440,311]},"axis":{"orient":"left","values":[0,1,2,3,4],"labelExpr":"datum.value==0?'0':datum.value+'x10⁶'","offset":-579,"title":"Luciferase activity","titlePadding":4}}},
"layer":[
{"mark":{"type":"rule","color":"#222","strokeWidth":1},"encoding":{"y2":{"field":"hi"}}},
{"mark":{"type":"tick","orient":"horizontal","size":9,"thickness":1.2,"color":"#222"},"encoding":{"y":{"field":"hi","type":"quantitative","stack":null,"scale":{"domain":[0,4],"range":[440,311]}}}},
{"mark":{"type":"bar","orient":"vertical","size":17,"stroke":"#222","strokeWidth":1},"encoding":{"color":{"field":"g","type":"nominal","scale":{"domain":["a","b","c","d"],"range":["#050505","#ed2224","#f9e20f","#f26722"]},"legend":null}}},
{"data":{"values":[{"pos":3,"v":0.62,"o":1},{"pos":3,"v":2.3,"o":2},{"pos":4,"v":2.3,"o":3},{"pos":4,"v":1.58,"o":4}]},"mark":{"type":"line","color":"#222","strokeWidth":1.2},"encoding":{"order":{"field":"o"},"y":{"field":"v","type":"quantitative","scale":{"domain":[0,4],"range":[440,311]}}}}
]},
{"data":{"values":[{"a":0,"t":"179 %"}]},"mark":{"type":"text"},"encoding":{"x":{"field":"a","type":"quantitative","scale":{"domain":[0,1],"range":[662,663]},"axis":null},"y":{"field":"a","type":"quantitative","scale":{"domain":[0,1],"range":[346,347]},"axis":null},"text":{"field":"t"}}},
{"data":{"values":[{"a":0,"t":"**"}]},"mark":{"type":"text"},"encoding":{"x":{"field":"a","type":"quantitative","scale":{"domain":[0,1],"range":[660,661]},"axis":null},"y":{"field":"a","type":"quantitative","scale":{"domain":[0,1],"range":[358,359]},"axis":null},"text":{"field":"t"}}},
{"data":{"values":[{"pos":1,"f":"TNF","s":"+"},{"pos":2,"f":"TNF","s":"+"},{"pos":3,"f":"TNF","s":"+"},{"pos":4,"f":"TNF","s":"+"},{"pos":1,"f":"siCtrl","s":"+"},{"pos":2,"f":"siCtrl","s":"-"},{"pos":3,"f":"siCtrl","s":"-"},{"pos":4,"f":"siCtrl","s":"-"},{"pos":1,"f":"siHDAC4","s":"-"},{"pos":2,"f":"siHDAC4","s":"+"},{"pos":3,"f":"siHDAC4","s":"-"},{"pos":4,"f":"siHDAC4","s":"+"},{"pos":1,"f":"siSIK3","s":"-"},{"pos":2,"f":"siSIK3","s":"-"},{"pos":3,"f":"siSIK3","s":"+"},{"pos":4,"f":"siSIK3","s":"+"}]},"mark":{"type":"text"},"encoding":{"x":{"field":"pos","type":"quantitative","scale":{"domain":[0.508,4.485],"range":[579,684]},"axis":null},"y":{"field":"f","type":"nominal","scale":{"type":"point","domain":["TNF","siCtrl","siHDAC4","siSIK3"],"range":[455,498],"padding":0},"axis":{"orient":"left","offset":-585,"domain":false,"ticks":false,"labelPadding":0,"title":null}},"text":{"field":"s"}}}
]}
